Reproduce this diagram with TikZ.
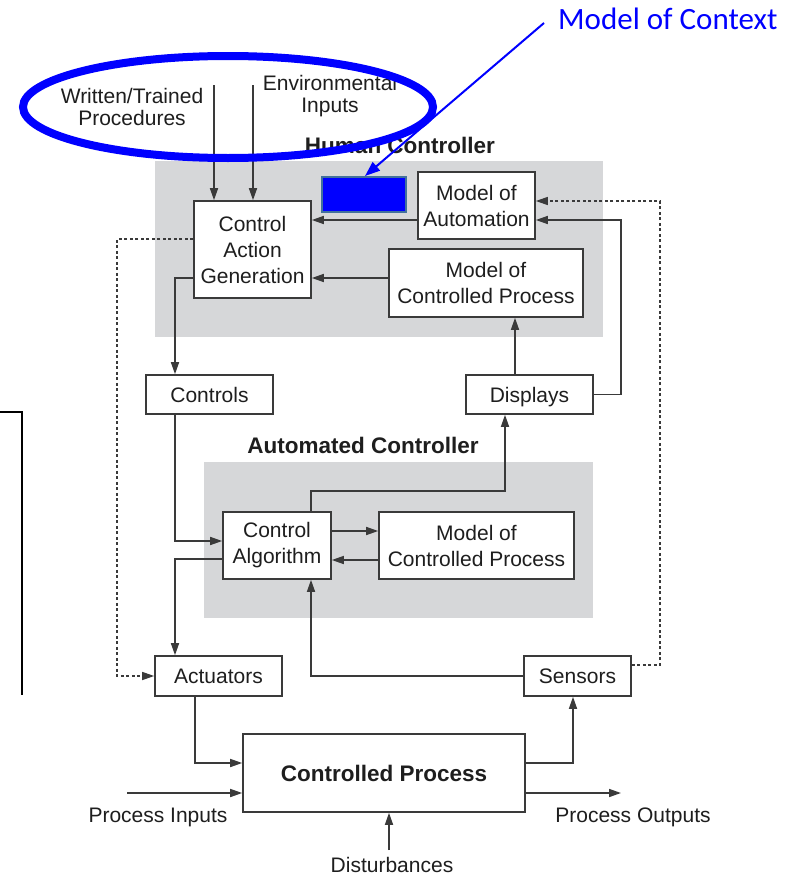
\documentclass[tikz,border=0pt]{standalone}
\usepackage{fontspec}
\setmainfont{Liberation Sans}
\newfontfamily\calib{Carlito}
\usetikzlibrary{arrows.meta}
\definecolor{panel}{HTML}{D6D7D9}
\definecolor{linec}{HTML}{3A3A3A}
\definecolor{txt}{HTML}{1E1E1E}
\definecolor{ctxblue}{HTML}{0000FF}
\definecolor{ctxedge}{HTML}{41719C}
\tikzset{
  box/.style={draw=linec, line width=1.6pt, fill=white, text=txt,
    font=\fontsize{21}{26}\selectfont, align=center, inner sep=0pt},
  arr/.style={draw=linec, line width=1.5pt, -{Triangle[length=12pt,width=8pt]}},
  dsharr/.style={draw=linec, line width=1.3pt, dash pattern=on 3pt off 2.5pt,
    -{Triangle[length=12pt,width=8pt]}},
  lbl/.style={text=txt, font=\fontsize{21}{21.5}\selectfont, align=center, inner sep=0pt},
  title/.style={text=txt, font=\bfseries\fontsize{22.5}{27}\selectfont, inner sep=0pt},
}
\begin{document}
\begin{tikzpicture}[x=1pt,y=-1pt]
\useasboundingbox (0,0) rectangle (798,878);
\fill[white] (0,0) rectangle (798,878);

% controller panels
\fill[panel] (155,161) rectangle (603,337);
\fill[panel] (204,462) rectangle (593,618);

% stray frame edge at the left margin
\draw[black, line width=1.5pt] (0,412) -- (22,412) -- (22,695);

% panel titles
\node[title, anchor=base] (hctitle) at (400,153) {Human Controller};
\node[title, anchor=base] (actitle) at (363,453) {Automated Controller};

% human controller
\node[box, minimum width=117pt, minimum height=97pt] (cag) at (252.5,249.5) {Control\\Action\\Generation};
\node[box, minimum width=117pt, minimum height=67pt] (moa) at (476.5,205.5) {Model of\\Automation};
\node[box, minimum width=194pt, minimum height=68pt] (mcph) at (486,283) {Model of\\Controlled Process};
\node[draw=ctxedge, line width=2pt, fill=ctxblue, minimum width=84pt, minimum height=35pt, inner sep=0pt] (ctxbox) at (364,194.5) {};

% interface boxes
\node[box, minimum width=127pt, minimum height=39pt] (controls) at (209.5,394.5) {Controls};
\node[box, minimum width=127pt, minimum height=39pt, text depth=0pt] (displays) at (529.5,394.5) {Displays};

% automated controller
\node[box, minimum width=108pt, minimum height=67pt] (ca) at (277,545.5) {Control\\Algorithm};
\node[box, minimum width=195pt, minimum height=67pt] (mcpa) at (476.5,545.5) {Model of\\Controlled Process};

% actuators, sensors, process
\node[box, minimum width=127pt, minimum height=40pt] (act) at (218.5,676) {Actuators};
\node[box, minimum width=107pt, minimum height=40pt] (sens) at (577.5,676) {Sensors};
\node[box, minimum width=282pt, minimum height=78pt, font=\bfseries\fontsize{22.5}{27}\selectfont] (cp) at (384,773) {Controlled Process};

% external labels
\node[lbl] (wtp) at (132,107) {Written/Trained\\Procedures};
\node[lbl] (env) at (330,96) {Environmental\\Inputs};
\node[lbl, anchor=base] (pin) at (158,822) {Process Inputs};
\node[lbl, anchor=base] (pout) at (633,822) {Process Outputs};
\node[lbl, anchor=base] (dist) at (392,872) {Disturbances};

% free ends of connectors
\coordinate (wtpin) at (214,85);
\coordinate (envin) at (253,85);
\coordinate (pinstart) at (127,793);
\coordinate (poutend) at (621,793);
\coordinate (diststart) at (389,850);

% human controller connectors
\draw[arr] (wtpin) -- (wtpin |- cag.north);
\draw[arr] (envin) -- (envin |- cag.north);
\draw[arr] (moa.west |- 0,220) -- (cag.east |- 0,220);
\draw[arr] (mcph.west |- 0,278) -- (cag.east |- 0,278);
\draw[arr] (cag.west |- 0,278) -| (175,0 |- controls.north);
\draw[dsharr] (cag.west |- 0,239) -| (117,0 |- act.west) -- (act.west);
\draw[arr] (515,0 |- displays.north) -- (515,0 |- mcph.south);
\draw[arr] (displays.east) -| (621,0 |- 0,220) -- (moa.east |- 0,220);
\draw[dsharr] (sens.east |- 0,665) -| (660,0 |- 0,201) -- (moa.east |- 0,201);

% automated controller connectors
\draw[arr] (175,0 |- controls.south) |- (ca.west |- 0,541);
\draw[arr] (ca.east |- 0,531) -- (mcpa.west |- 0,531);
\draw[arr] (mcpa.west |- 0,560) -- (ca.east |- 0,560);
\draw[arr] (ca.west |- 0,559) -| (175,0 |- act.north);
\draw[arr] (311,0 |- ca.north) |- (505,0 |- 0,491) -- (505,0 |- displays.south);
\draw[arr] (sens.west) -| (311,0 |- ca.south);

% process connectors
\draw[arr] (195,0 |- act.south) |- (cp.west |- 0,763);
\draw[arr] (cp.east |- 0,763) -| (573,0 |- sens.south);
\draw[arr] (pinstart) -- (cp.west |- pinstart);
\draw[arr] (cp.east |- poutend) -- (poutend);
\draw[arr] (diststart) -- (diststart |- cp.south);

% context annotation
\node[text=ctxblue, font=\calib\fontsize{31}{36}\selectfont, anchor=base west, inner sep=0pt] (ctx) at (558,29) {Model of Context};
\coordinate (ctxfoot) at (544,23);
\draw[ctxblue, line width=8pt] (228,107) ellipse [x radius=205pt, y radius=51pt];
\draw[ctxblue, line width=2pt, -{Triangle[length=15pt,width=11pt]}] (ctxfoot) -- (365,0 |- ctxbox.north);
\end{tikzpicture}
\end{document}
